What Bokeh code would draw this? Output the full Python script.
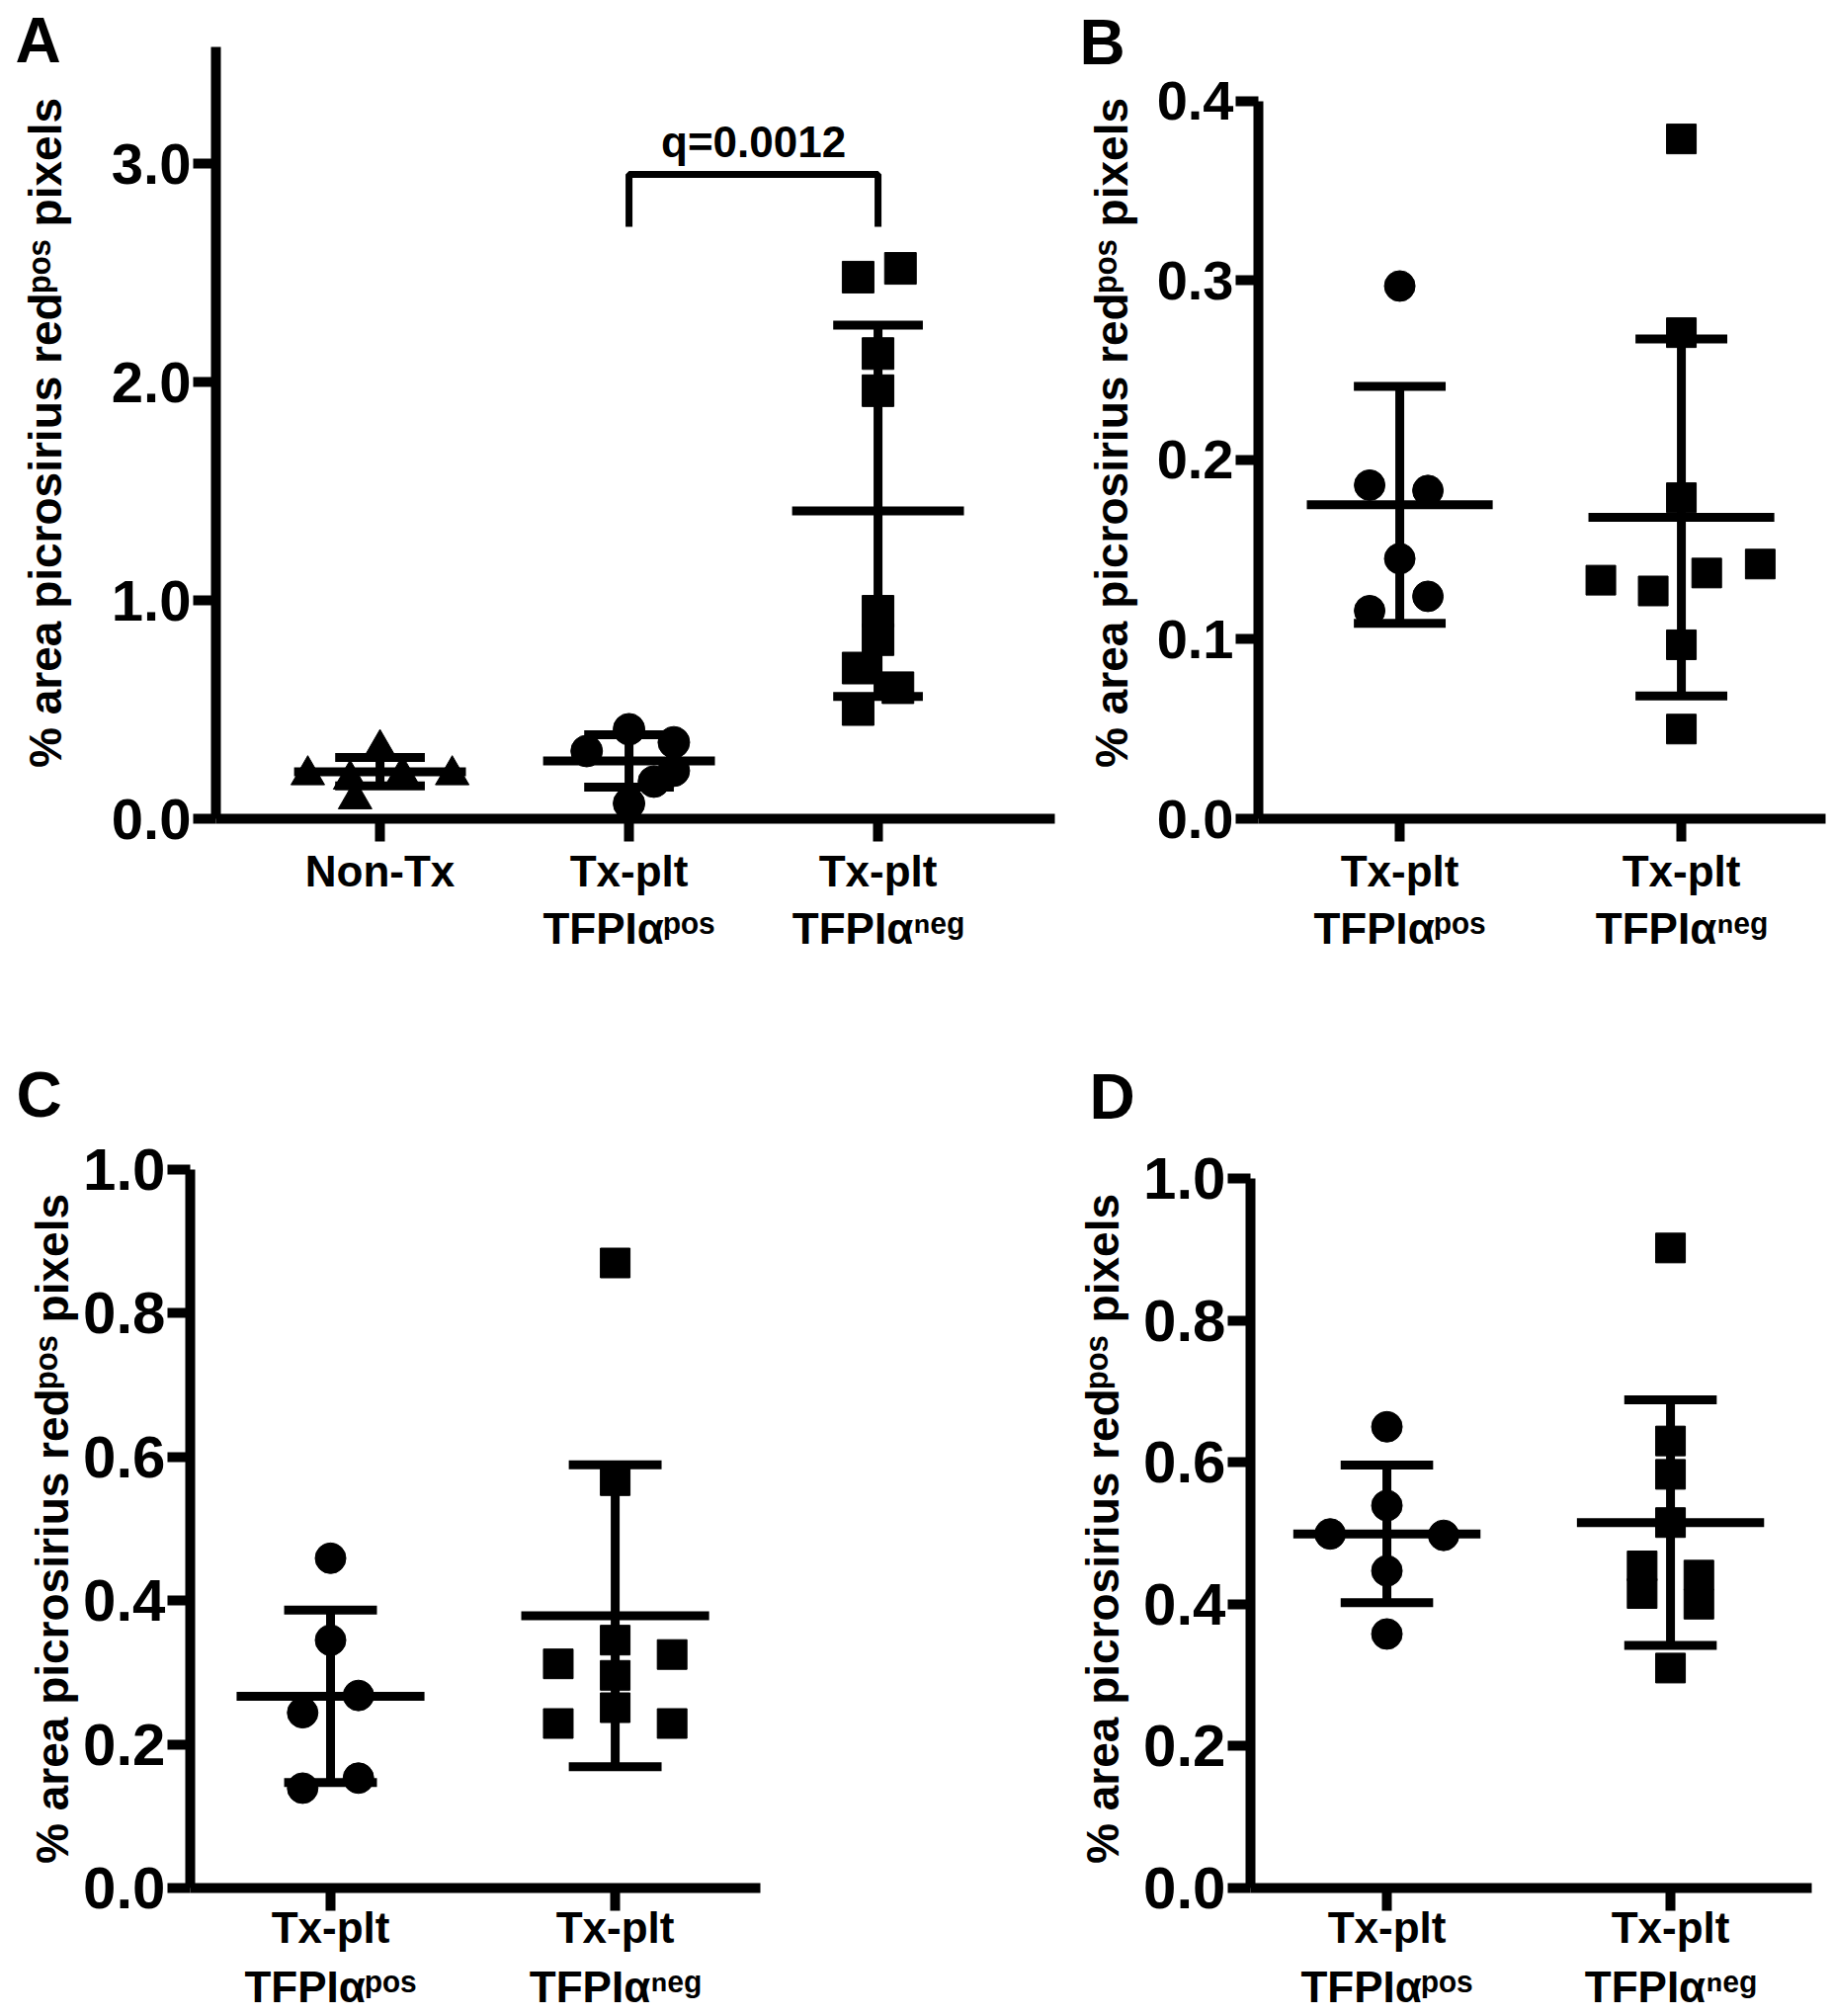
from bokeh.plotting import figure
from bokeh.layouts import column, row
from bokeh.models import Range1d, FixedTicker, ColumnDataSource, NumeralTickFormatter
from bokeh.core.properties import value
from bokeh.embed import file_html
from bokeh.resources import INLINE

FONT = "Liberation Sans"

# ---------------- data ----------------
ylabel = "% area picrosirius red\u1d56\u1d52\u02e2 pixels"
lab_nontx = "Non-Tx"
lab_pos = "Tx-plt\nTFPI\u03b1\u1d56\u1d52\u02e2"
lab_neg = "Tx-plt\nTFPI\u03b1\u207f\u1d49\u1d4d"

# Panel A
a_nontx = [0.20, 0.18, 0.09, 0.32, 0.20, 0.20]
a_nontx_jit = [-0.29, -0.12, -0.10, 0.0, 0.09, 0.29]
a_pos = [0.31, 0.41, 0.35, 0.22, 0.17, 0.07]
a_pos_jit = [-0.17, 0.0, 0.18, 0.18, 0.10, 0.0]
a_neg = [2.48, 2.52, 2.13, 1.96, 0.95, 0.82, 0.69, 0.60, 0.50]
a_neg_jit = [-0.08, 0.09, 0.0, 0.0, 0.0, 0.0, -0.08, 0.08, -0.08]
a_mean = [0.215, 0.265, 1.41]
a_sd = [0.065, 0.12, 0.85]
a_q_text = "q=0.0012"
a_bracket_top = 2.95
a_bracket_bottom = 2.71
a_q_y = 3.10
a_yticks = [0.0, 1.0, 2.0, 3.0]

# Panel B
b_pos = [0.297, 0.186, 0.183, 0.145, 0.116, 0.124]
b_pos_jit = [0.0, -0.107, 0.10, 0.0, -0.107, 0.10]
b_neg = [0.379, 0.271, 0.179, 0.133, 0.127, 0.137, 0.142, 0.097, 0.050]
b_neg_jit = [0.0, 0.0, 0.0, -0.286, -0.10, 0.09, 0.28, 0.0, 0.0]
b_mean = [0.175, 0.168]
b_sd = [0.066, 0.0995]
b_yticks = [0.0, 0.1, 0.2, 0.3, 0.4]

# Panel C
c_pos = [0.459, 0.345, 0.244, 0.268, 0.139, 0.153]
c_pos_jit = [0.0, 0.0, -0.098, 0.098, -0.098, 0.098]
c_neg = [0.870, 0.567, 0.345, 0.296, 0.251, 0.312, 0.229, 0.325, 0.229]
c_neg_jit = [0.0, 0.0, 0.0, 0.0, 0.0, -0.2, -0.2, 0.2, 0.2]
c_mean = [0.267, 0.379]
c_sd = [0.12, 0.21]
c_yticks = [0.0, 0.2, 0.4, 0.6, 0.8, 1.0]

# Panel D
d_pos = [0.650, 0.539, 0.499, 0.497, 0.447, 0.358]
d_pos_jit = [0.0, 0.0, -0.2, 0.2, 0.0, 0.0]
d_neg = [0.902, 0.630, 0.583, 0.515, 0.454, 0.415, 0.441, 0.400, 0.310]
d_neg_jit = [0.0, 0.0, 0.0, 0.0, -0.1, -0.1, 0.1, 0.1, 0.0]
d_mean = [0.499, 0.515]
d_sd = [0.097, 0.173]
d_yticks = [0.0, 0.2, 0.4, 0.6, 0.8, 1.0]


def make_panel(width, height, borders, xr, yr, ybounds, yticks, cat_labels, groups,
               means, sds, tick_font, mean_half, sd_half, letter, letter_px,
               ylab_standoff, x_standoff, x_lh):
    left, right, top, bottom = borders
    p = figure(width=width, height=height, x_range=Range1d(*xr), y_range=Range1d(*yr),
               output_backend="svg", toolbar_location=None,
               min_border_left=left, min_border_right=right,
               min_border_top=top, min_border_bottom=bottom)
    p.outline_line_color = None
    p.xgrid.visible = False
    p.ygrid.visible = False
    p.background_fill_color = "white"
    p.border_fill_color = "white"

    for ax in (p.xaxis[0], p.yaxis[0]):
        ax.axis_line_width = 10
        ax.axis_line_color = "black"
        ax.major_tick_line_width = 10
        ax.major_tick_line_color = "black"
        ax.major_tick_in = 0
        ax.major_tick_out = 23
        ax.minor_tick_line_color = None
        ax.major_label_text_font = FONT
        ax.major_label_text_font_style = "bold"
        ax.major_label_text_color = "black"

    p.yaxis.bounds = ybounds
    p.yaxis.ticker = FixedTicker(ticks=yticks)
    p.yaxis.formatter = NumeralTickFormatter(format="0.0")
    p.yaxis.major_label_text_font_size = tick_font
    p.yaxis.major_label_standoff = 2
    p.yaxis.axis_label = ylabel
    p.yaxis.axis_label_text_font = FONT
    p.yaxis.axis_label_text_font_style = "bold"
    p.yaxis.axis_label_text_font_size = "46px"
    p.yaxis.axis_label_text_color = "black"
    p.yaxis.axis_label_standoff = ylab_standoff

    ncat = len(cat_labels)
    p.xaxis.ticker = FixedTicker(ticks=list(range(ncat)))
    p.xaxis.major_label_overrides = {i: cat_labels[i] for i in range(ncat)}
    p.xaxis.major_label_text_font_size = "44px"
    p.xaxis.major_label_standoff = x_standoff
    p.xaxis.major_label_text_line_height = x_lh

    # error bars (mean +/- SD)
    xs0, xs1, ys0, ys1 = [], [], [], []
    for i, (m, s) in enumerate(zip(means, sds)):
        xs0 += [i - mean_half, i - sd_half, i - sd_half, i]
        xs1 += [i + mean_half, i + sd_half, i + sd_half, i]
        ys0 += [m, m + s, m - s, m - s]
        ys1 += [m, m + s, m - s, m + s]
    p.segment(x0=xs0, y0=ys0, x1=xs1, y1=ys1, line_width=9, line_color="black",
              line_cap="butt")

    for i, (vals, jit, marker, size) in enumerate(groups):
        src = ColumnDataSource(dict(x=[i + j for j in jit], y=vals))
        p.scatter("x", "y", source=src, marker=marker, size=size,
                  fill_color="black", line_color="black", line_width=1)

    # panel letter: pixel offset (from figure's top-left) mapped through the frame scale
    fw = width - left - right
    fh = height - top - bottom
    lx_px, ly_px = letter_px
    lx = xr[0] + (lx_px - left) * (xr[1] - xr[0]) / fw
    ly = yr[1] - (ly_px - top) * (yr[1] - yr[0]) / fh
    p.text(x=[lx], y=[ly], text=[letter], text_font=value(FONT), text_font_style="bold",
           text_font_size="64px", text_color="black", text_align="left",
           text_baseline="middle", level="overlay")
    return p


# Row 1: figures 1050 px tall, frames from y=47 to y=828
pA = make_panel(1080, 1050, (218, 13, 47, 222), (-0.659, 2.710), (0, 3.534), (0, 3.534),
                a_yticks, [lab_nontx, lab_pos, lab_neg],
                [(a_nontx, a_nontx_jit, "triangle", 34),
                 (a_pos, a_pos_jit, "circle", 32),
                 (a_neg, a_neg_jit, "square", 32)],
                a_mean, a_sd, "58px", 0.345, 0.18, "A", (15, 40), 38, 5, 1.2)
pA.line(x=[1, 1, 2, 2], y=[a_bracket_bottom, a_bracket_top, a_bracket_top, a_bracket_bottom],
        line_width=7, line_color="black")
pA.text(x=[1.5], y=[a_q_y], text=[a_q_text], text_font=value(FONT), text_font_style="bold",
        text_font_size="44px", text_align="center", text_baseline="middle",
        text_color="black")

pB = make_panel(774, 1050, (193, 7, 47, 222), (-0.502, 1.512), (0, 0.4303), (0, 0.4),
                b_yticks, [lab_pos, lab_neg],
                [(b_pos, b_pos_jit, "circle", 31),
                 (b_neg, b_neg_jit, "square", 30)],
                b_mean, b_sd, "56px", 0.33, 0.163, "B", (12, 42), 17, 5, 1.2)

# Row 2: figures 990 px tall (y 1050..2040), frames from y=1183 to y=1910
pC = make_panel(1080, 990, (192, 311, 133, 130), (-0.493, 1.510), (0, 1.0), (0, 1.0),
                c_yticks, [lab_pos, lab_neg],
                [(c_pos, c_pos_jit, "circle", 31),
                 (c_neg, c_neg_jit, "square", 30)],
                c_mean, c_sd, "60px", 0.33, 0.163, "C", (16, 57), 2, -8, 1.23)

pD = make_panel(774, 990, (185, 21, 133, 130), (-0.481, 1.498), (0, 1.0125), (0, 1.0),
                d_yticks, [lab_pos, lab_neg],
                [(d_pos, d_pos_jit, "circle", 31),
                 (d_neg, d_neg_jit, "square", 30)],
                d_mean, d_sd, "60px", 0.33, 0.163, "D", (22, 59), 12, -8, 1.23)

layout = column(row(pA, pB, spacing=0), row(pC, pD, spacing=0), spacing=0)
open("out.html", "w").write(file_html(layout, INLINE))
